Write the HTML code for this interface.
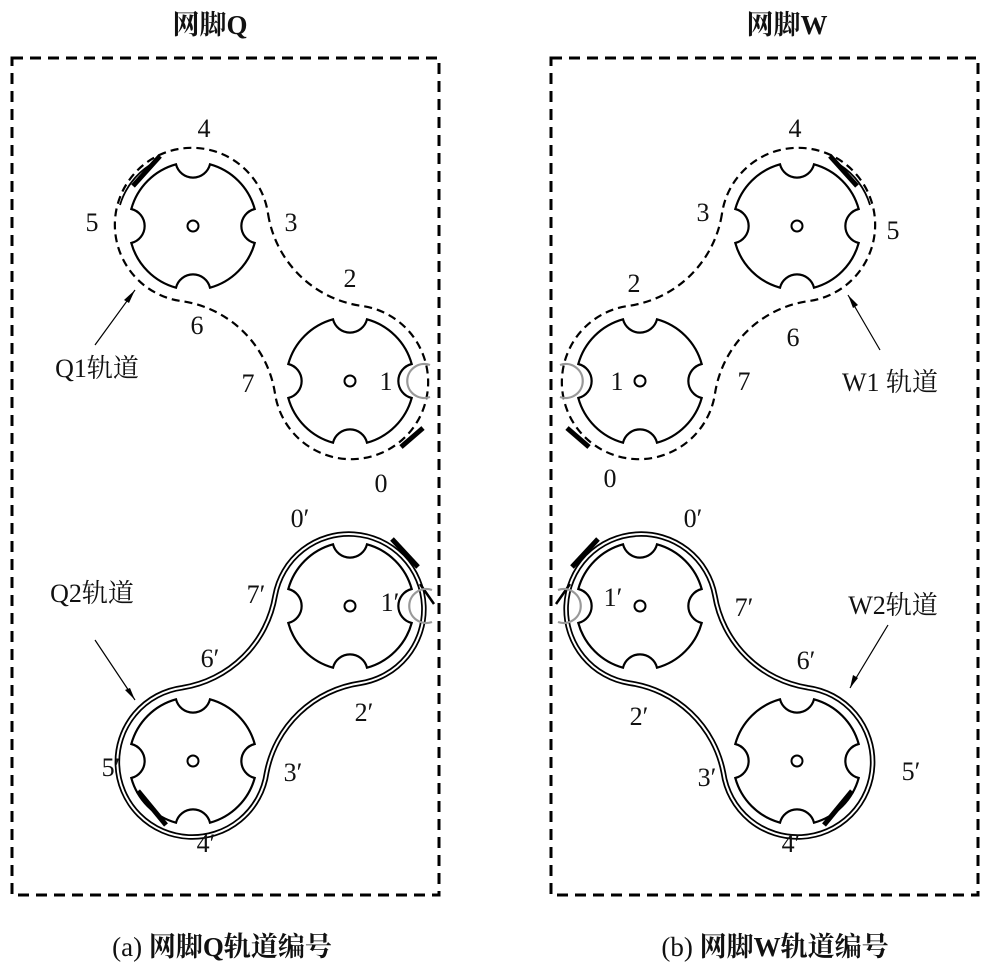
<!DOCTYPE html>
<html><head><meta charset="utf-8"><style>
html,body{margin:0;padding:0;background:#fff;}
svg{display:block;}
text{font-family:"Liberation Serif","Noto Serif CJK SC",serif;font-size:26px;fill:#111;}
.t{font-family:"Liberation Serif","Noto Serif CJK SC",serif;font-size:27px;font-weight:bold;}
</style></head><body>
<svg width="1000" height="977" viewBox="0 0 1000 977" xmlns="http://www.w3.org/2000/svg">
<defs>
<path id="gear" d="M17,-61.7 A64 64 0 0 1 61.7,-17 A17.5 17.5 0 0 0 61.7,17 A64 64 0 0 1 17,61.7 A17.5 17.5 0 0 0 -17,61.7 A64 64 0 0 1 -61.7,17 A17.5 17.5 0 0 0 -61.7,-17 A64 64 0 0 1 -17,-61.7 A17.5 17.5 0 0 0 17,-61.7 Z" fill="none" stroke="#000" stroke-width="2.2"/>
<path id="trk" d="M268.1,214.1 A110 110 0 0 0 360.9,305.8 A77 77 0 1 1 274.9,392.9 A110 110 0 0 0 182.1,301.2 A77 77 0 1 1 268.1,214.1 Z" fill="none"/>
<path id="trk2" d="M266.6,214.3 A112 112 0 0 0 360.6,303.9 A75 75 0 1 1 275.1,391.4 A112 112 0 0 0 182.4,299.3 A75 75 0 1 1 266.6,214.3 Z" fill="none"/>
<g id="gears">
<use href="#gear" x="193" y="226"/><use href="#gear" x="350" y="381"/>
<circle cx="193" cy="226" r="5.5" fill="none" stroke="#000" stroke-width="2"/>
<circle cx="350" cy="381" r="5.5" fill="none" stroke="#000" stroke-width="2"/>
</g>
<g id="top">
<use href="#gears"/>
<use href="#trk" stroke="#000" stroke-width="2.2" stroke-dasharray="8 5"/>
<path d="M120,205 A72 72 0 0 1 150,165" fill="none" stroke="#000" stroke-width="1.8"/>
<path d="M133,186 L160,156" stroke="#000" stroke-width="5"/>
<path d="M401,447 L423,428" stroke="#000" stroke-width="5"/>
<path d="M430,365 A17 17 0 1 0 430,397" fill="none" stroke="#999" stroke-width="2.2"/>
</g>
<g id="bot">
<use href="#gears"/>
<use href="#trk2" stroke="#000" stroke-width="5.5"/>
<use href="#trk2" stroke="#fff" stroke-width="2"/>
<path d="M138,196 L166,162" stroke="#000" stroke-width="5"/>
<path d="M392,448 L418,420" stroke="#000" stroke-width="5"/>
<path d="M420,403 L434,383" stroke="#000" stroke-width="2.5"/>
<path d="M432,365 A17 17 0 1 0 432,397" fill="none" stroke="#999" stroke-width="2.2"/>
</g>
</defs>
<rect x="12" y="58" width="427" height="837" fill="none" stroke="#000" stroke-width="3" stroke-dasharray="11 7"/>
<rect x="551" y="58" width="427" height="837" fill="none" stroke="#000" stroke-width="3" stroke-dasharray="11 7"/>
<use href="#top"/>
<use href="#bot" transform="translate(0,987) scale(1,-1)"/>
<g transform="translate(990,0) scale(-1,1)">
<use href="#top"/>
<use href="#bot" transform="translate(0,987) scale(1,-1)"/>
</g>
<g stroke="#000" stroke-width="1.2">
<line x1="95" y1="345" x2="135" y2="290"/><line x1="95" y1="640" x2="135" y2="700"/>
<line x1="880" y1="350" x2="848" y2="295"/><line x1="888" y1="625" x2="850" y2="688"/>
</g>
<g fill="#000">
<polygon points="135,290 124,300 129,303"/><polygon points="135,700 125,690 130,688"/>
<polygon points="848,295 853,308 858,305"/><polygon points="850,688 853,675 858,678"/>
</g>
<text class="t" x="210" y="34" text-anchor="middle">网脚Q</text>
<text class="t" x="787" y="34" text-anchor="middle">网脚W</text>
<text class="t" x="222" y="956" text-anchor="middle" style="font-weight:normal;font-size:27px">(a) <tspan font-weight="bold">网脚Q轨道编号</tspan></text>
<text class="t" x="775" y="956" text-anchor="middle" style="font-weight:normal;font-size:27px">(b) <tspan font-weight="bold">网脚W轨道编号</tspan></text>
<g text-anchor="middle">
<text x="204" y="137">4</text><text x="92" y="231">5</text><text x="291" y="231">3</text>
<text x="350" y="287">2</text><text x="197" y="334">6</text><text x="248" y="392">7</text>
<text x="386" y="390">1</text><text x="381" y="492">0</text>
<text x="97" y="377">Q1轨道</text>
<text x="300" y="527">0′</text><text x="256" y="603">7′</text><text x="390" y="611">1′</text>
<text x="210" y="667">6′</text><text x="364" y="721">2′</text><text x="293" y="781">3′</text>
<text x="111" y="776">5′</text><text x="206" y="852">4′</text>
<text x="92" y="602">Q2轨道</text>
<text x="795" y="137">4</text><text x="703" y="221">3</text><text x="893" y="239">5</text>
<text x="634" y="292">2</text><text x="793" y="346">6</text><text x="617" y="390">1</text>
<text x="744" y="390">7</text><text x="610" y="487">0</text>
<text x="890" y="391">W1 轨道</text>
<text x="693" y="527">0′</text><text x="613" y="606">1′</text><text x="744" y="616">7′</text>
<text x="893" y="614">W2轨道</text>
<text x="806" y="669">6′</text><text x="639" y="725">2′</text><text x="707" y="786">3′</text>
<text x="911" y="780">5′</text><text x="791" y="852">4′</text>
</g>
</svg>
</body></html>
